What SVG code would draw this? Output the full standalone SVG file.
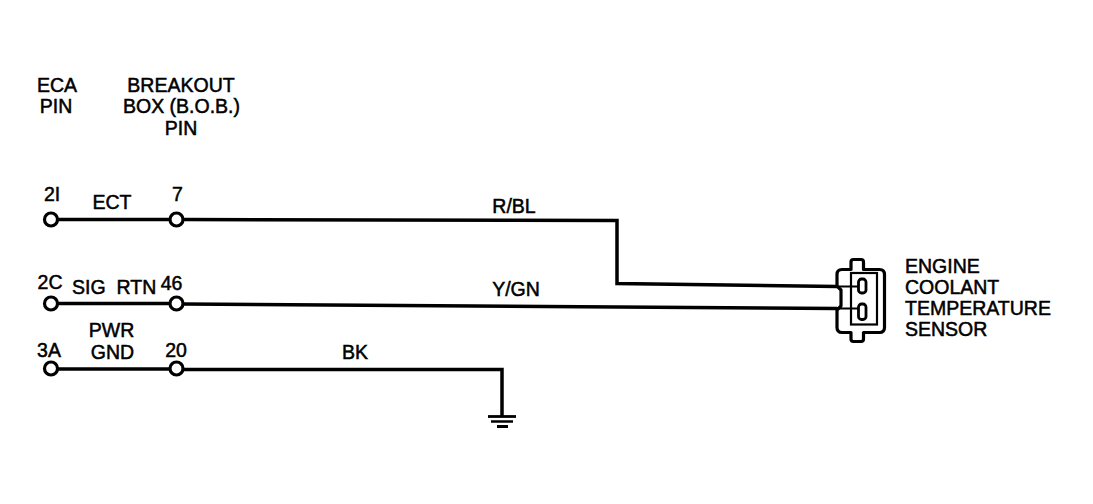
<svg xmlns="http://www.w3.org/2000/svg" width="1093" height="504" viewBox="0 0 1093 504">
<style>
  text { font-family: "Liberation Sans", Arial, sans-serif; font-size: 19.5px; fill: #000; stroke: #000; stroke-width: 0.5; }
  .m { text-anchor: middle; }
  .wire { fill: none; stroke: #000; stroke-width: 3.5; stroke-linejoin: miter; stroke-linecap: butt; }
  .thin { fill: none; stroke: #000; stroke-width: 2.2; }
  .term { fill: #fff; stroke: #000; stroke-width: 3.2; }
</style>
<rect width="1093" height="504" fill="#fff"/>

<g id="headers">
  <text class="m" x="57" y="91.5">ECA</text>
  <text class="m" x="56" y="113">PIN</text>
  <text class="m" x="181" y="91.5">BREAKOUT</text>
  <text class="m" x="181.5" y="113">BOX (B.O.B.)</text>
  <text class="m" x="181" y="135">PIN</text>
</g>

<g id="connectors">
  <path class="wire" d="M57 219.5 L170 219.5"/>
  <path class="wire" d="M183 219.5 L617 220.5 L617 283.5 L837 286.5"/>
  <path class="wire" d="M57 303.5 L170 303.5"/>
  <path class="wire" d="M183 304 L837 308.5"/>
  <path class="wire" d="M57 369 L170 369"/>
  <path class="wire" d="M183 369.5 L502 369.5 L502 416"/>
  <path class="thin" d="M837 286.5 L858 286.5"/>
  <path class="thin" d="M837 308.5 L858 308.5"/>
  <text class="m" x="514" y="212.5">R/BL</text>
  <text class="m" x="516" y="296">Y/GN</text>
  <text class="m" x="355" y="358.5">BK</text>
</g>

<g id="ground">
  <line x1="488" y1="416.5" x2="516" y2="416.5" stroke="#000" stroke-width="2.8"/>
  <line x1="491" y1="421.5" x2="513" y2="421.5" stroke="#000" stroke-width="2.5"/>
  <line x1="497" y1="426.5" x2="508" y2="426.5" stroke="#000" stroke-width="3"/>
</g>

<g id="eca-2I">
  <circle class="term" cx="51" cy="219.5" r="6.5"/>
  <text x="44" y="200.5">2I</text>
</g>
<g id="bob-7">
  <circle class="term" cx="176.5" cy="219.5" r="6.5"/>
  <text class="m" x="177.5" y="200.5">7</text>
</g>
<g id="label-ect">
  <text class="m" x="112" y="208.5">ECT</text>
</g>

<g id="eca-2C">
  <circle class="term" cx="51" cy="303.5" r="6.5"/>
  <text class="m" x="50" y="288.5">2C</text>
</g>
<g id="bob-46">
  <circle class="term" cx="176.5" cy="303.5" r="6.5"/>
  <text class="m" x="171.5" y="289.5">46</text>
</g>
<g id="label-sigrtn">
  <text x="72" y="293.5">SIG<tspan dx="11">RTN</tspan></text>
</g>

<g id="eca-3A">
  <circle class="term" cx="51" cy="368.5" r="6.5"/>
  <text class="m" x="49" y="357">3A</text>
</g>
<g id="bob-20">
  <circle class="term" cx="176.5" cy="368.5" r="6.5"/>
  <text class="m" x="176" y="357">20</text>
</g>
<g id="label-pwrgnd">
  <text class="m" x="111.5" y="336.5">PWR</text>
  <text class="m" x="112.5" y="358.5">GND</text>
</g>

<g id="sensor">
  <path fill="#fff" stroke="#000" stroke-width="3.2" stroke-linejoin="round"
        d="M842 269.5 L851 269.5 L851 262 Q851 259.5 853.5 259.5 L861 259.5 Q863.5 259.5 863.5 262 L863.5 269.5 L879.5 269.5 Q884.5 269.5 884.5 274.5 L884.5 327.5 Q884.5 332.5 879.5 332.5 L863.5 332.5 L863.5 339 Q863.5 341.5 861 341.5 L853.5 341.5 Q851 341.5 851 339 L851 332.5 L842 332.5 Q837 332.5 837 327.5 L837 310 L841 306 L841 290 L837 286 L837 274.5 Q837 269.5 842 269.5 Z"/>
  <rect x="851" y="273" width="26" height="51.5" fill="none" stroke="#000" stroke-width="2.2"/>
  <path class="thin" d="M837 286.5 L858 286.5 M837 308.5 L858 308.5"/>
  <rect x="858.5" y="279" width="7.5" height="14" rx="3" fill="#fff" stroke="#000" stroke-width="2.8"/>
  <rect x="858.5" y="304" width="7.5" height="15.5" rx="3" fill="#fff" stroke="#000" stroke-width="2.8"/>
  <text x="905" y="273">ENGINE</text>
  <text x="905" y="293.5">COOLANT</text>
  <text x="905" y="314.5">TEMPERATURE</text>
  <text x="905" y="335.5">SENSOR</text>
</g>
</svg>
